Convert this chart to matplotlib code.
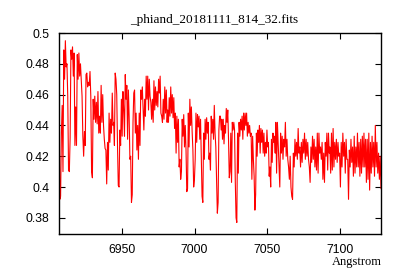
import numpy as np
import matplotlib
matplotlib.use("Agg")
import matplotlib.pyplot as plt

title = "_phiand_20181111_814_32.fits"
xlabel = "Angstrom"
xticks = [6950, 7000, 7050, 7100]
yticks = [0.38, 0.40, 0.42, 0.44, 0.46, 0.48, 0.50]
ytick_labels = ["0.38", "0.4", "0.42", "0.44", "0.46", "0.48", "0.5"]

# spectrum, in six wavelength segments
seg1_range = (6907.0, 6944.1)
seg1 = [.464,.392,.394,.435,.453,.410,.489,.470,.495,.478,.480,.459,.411,.410,.432,.489,.483,.491,.472,.487,
        .427,.452,.427,.486,.470,.487,.472,.480,.470,.459,.433,.420,.436,.427,.473,.474,.465,.468,.466,.475,
        .459,.410,.406,.457,.444,.459,.442,.455,.441,.462,.435,.446,.435,.466,.442,.460,.440,.431,.425,.424,
        .402,.429,.411,.448,.429,.444,.435,.461,.440]
seg2_range = (6944.5, 6981.2)
seg2 = [.442,.427,.474,.470,.460,.427,.401,.400,.437,.427,.457,.433,.462,.450,.433,.473,.457,.466,.431,.463,
        .446,.418,.420,.390,.395,.442,.461,.463,.435,.448,.424,.440,.418,.448,.427,.463,.457,.465,.450,.437,
        .457,.446,.472,.457,.472,.450,.470,.459,.455,.444,.457,.442,.469,.450,.465,.453,.462,.452,.470,.461,
        .472,.448,.446,.442,.457,.444,.465,.448,.463,.442]
seg3_range = (6981.6, 7018.3)
seg3 = [.450,.442,.458,.446,.465,.448,.460,.445,.458,.438,.448,.422,.446,.429,.444,.413,.418,.405,.410,.444,
        .433,.447,.426,.440,.424,.397,.399,.448,.426,.457,.440,.452,.436,.424,.400,.405,.418,.448,.429,.447,
        .439,.446,.431,.444,.420,.394,.390,.435,.418,.444,.431,.445,.435,.442,.418,.422,.411,.446,.435,.444,
        .431,.453,.435,.426,.405,.383,.390,.437,.446,.446,.437]
seg4_range = (7018.7, 7055.4)
seg4 = [.444,.431,.444,.428,.440,.435,.451,.442,.450,.431,.406,.410,.435,.403,.442,.437,.442,.437,.403,.380,
        .377,.435,.409,.442,.433,.444,.437,.446,.431,.448,.437,.448,.440,.448,.433,.442,.435,.440,.433,.435,
        .405,.433,.418,.407,.385,.395,.435,.420,.437,.429,.440,.422,.438,.429,.437,.422,.435,.420,.429,.422,
        .437,.426,.429,.407,.413,.400,.431,.416,.435,.429,.433,.422]
seg5_range = (7055.8, 7092.5)
seg5 = [.442,.409,.442,.428,.413,.400,.435,.422,.433,.418,.431,.426,.442,.420,.431,.418,.413,.405,.420,.400,
        .394,.392,.422,.413,.431,.420,.429,.418,.438,.422,.426,.413,.429,.416,.431,.422,.435,.418,.431,.420,
        .429,.418,.413,.403,.426,.416,.433,.418,.431,.413,.426,.411,.435,.409,.435,.422,.426,.418,.429,.405,
        .422,.403,.429,.420,.435,.411,.435,.422]
seg6_range = (7092.9, 7128.0)
seg6 = [.426,.409,.435,.411,.438,.413,.429,.418,.431,.416,.429,.420,.422,.400,.429,.413,.435,.420,.429,.409,
        .431,.418,.418,.392,.424,.413,.431,.416,.426,.407,.433,.409,.426,.413,.435,.413,.429,.407,.431,.409,
        .433,.413,.435,.413,.431,.403,.431,.405,.435,.398,.429,.409,.433,.413,.429,.407,.440,.413,.429,.409,
        .422,.405,.420,.399]

segments = [(seg1_range, seg1), (seg2_range, seg2), (seg3_range, seg3),
            (seg4_range, seg4), (seg5_range, seg5), (seg6_range, seg6)]
wave = np.concatenate([np.linspace(r[0], r[1], len(v)) for r, v in segments])
flux = np.concatenate([np.array(v) for r, v in segments])

fig = plt.figure(figsize=(4.0, 2.8), dpi=100)
ax = fig.add_axes([59/400, 1-234/280, (381-59)/400, (234-33)/280])
ax.plot(wave, flux, color="#ff0000", lw=0.8)
ax.set_xlim(6907, 7128)
ax.set_ylim(0.3695, 0.5)
ax.set_xticks(xticks)
ax.set_yticks(yticks)
ax.set_yticklabels(ytick_labels)
for s in ax.spines.values():
    s.set_linewidth(1.0)
ax.tick_params(direction="in", length=4, width=0.8, top=True, right=True,
               labelsize=8.8, pad=7)
for lab in ax.get_xticklabels() + ax.get_yticklabels():
    lab.set_fontfamily("Liberation Sans")
fig.text(214/400, 1-20/280, title, ha="center", va="center",
         fontfamily="Liberation Serif", fontsize=9.5)
fig.text(382/400, 1-262/280, xlabel, ha="right", va="center",
         fontfamily="Liberation Serif", fontsize=9)
fig.savefig("out.png", dpi=100)
